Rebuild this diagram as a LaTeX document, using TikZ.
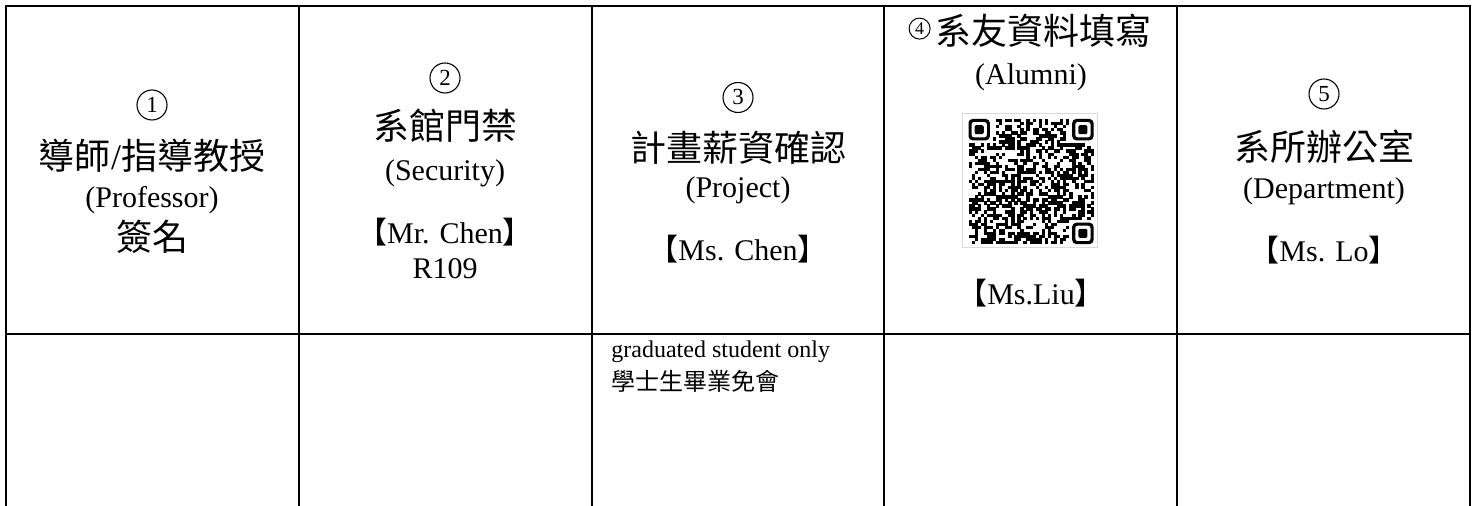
\documentclass[tikz,border=0pt]{standalone}
\usepackage{fontspec}
\setmainfont{Liberation Serif}
\newfontfamily\cjk{Noto Sans CJK TC}
\begin{document}
\begin{tikzpicture}[x=0.5pt,y=-0.5pt,
  gridline/.style={line width=1pt, black},
  head/.style={inner sep=0, font=\cjk\fontsize{18}{18}\selectfont},
  eng/.style={inner sep=0, font=\fontsize{15}{15}\selectfont},
  note/.style={inner sep=0, anchor=west, font=\fontsize{12}{12}\selectfont},
  notecjk/.style={inner sep=0, anchor=west, font=\cjk\fontsize{12}{12}\selectfont},
  num/.style={circle, draw, line width=0.55pt, minimum size=15pt, inner sep=0, font=\fontsize{11.5}{11.5}\selectfont},
  numsmall/.style={circle, draw, line width=0.5pt, minimum size=10.5pt, inner sep=0, font=\fontsize{9}{9}\selectfont},
  qrframe/.style={draw=black!15, line width=0.5pt},
  ]
\useasboundingbox (0,0) rectangle (1477,506);
\fill[white] (0,0) rectangle (1477,506);

% table lines
\draw[gridline] (5.7,506) -- (5.7,5.7) -- (1470,5.7) -- (1470,506);
\draw[gridline] (5.7,334) -- (1470,334);
\foreach \x in {298.6,591.5,884.4,1177.2} \draw[gridline] (\x,5.7) -- (\x,506);

% column 1
\node[num] (n1) at (152,105) {1};
\node[head] (t1) at (152,156) {導師{\rmfamily /}指導教授};
\node[eng] (e1) at (152,200) {(Professor)};
\node[head] (s1) at (152,237) {簽名};

% column 2
\node[num] (n2) at (445,78) {2};
\node[head] (t2) at (445,126) {系館門禁};
\node[eng] (e2) at (445,173) {(Security)};
\node[eng] (p2) at (445,232) {{\cjk 【}Mr. Chen{\cjk 】}};
\node[eng] (r2) at (445,269) {R109};

% column 3
\node[num] (n3) at (738,97.5) {3};
\node[head] (t3) at (738,148) {計畫薪資確認};
\node[eng] (e3) at (738,190) {(Project)};
\node[eng] (p3) at (738,249) {{\cjk 【}Ms. Chen{\cjk 】}};
\node[note] (g3) at (611,352) {graduated student only};
\node[notecjk] (c3) at (611,381) {學士生畢業免會};

% column 4
\node[head] (t4) at (1043,31) {系友資料填寫};
\node[numsmall, anchor=east] (n4) at ([xshift=-2pt,yshift=1.2pt]t4.west) {4};
\node[eng] (e4) at (1031,77.5) {(Alumni)};
\draw[qrframe] (962,114) rectangle (1097,248);
\begin{scope}[shift={(968.5,119)}]
  \def\qrm{3.05}
  \pgfmathsetseed{12}
  \foreach \i in {0,...,40}{\foreach \j in {0,...,40}{
    \pgfmathtruncatemacro{\qon}{(rnd<0.5)&&!((\i<8)&&(\j<8))&&!((\i>32)&&(\j<8))&&!((\i>32)&&(\j>32))}
    \ifnum\qon=1 \fill (\i*\qrm,\j*\qrm) rectangle ++(\qrm+0.3,\qrm+0.3);\fi
  }}
  \foreach \fx/\fy in {0/0,34/0,34/34}{
    \fill[rounded corners=2pt] (\fx*\qrm,\fy*\qrm) rectangle ++(7*\qrm,7*\qrm);
    \fill[white, rounded corners=1.2pt] (\fx*\qrm+\qrm,\fy*\qrm+\qrm) rectangle ++(5*\qrm,5*\qrm);
    \fill[rounded corners=1pt] (\fx*\qrm+2*\qrm,\fy*\qrm+2*\qrm) rectangle ++(3*\qrm,3*\qrm);
  }
\end{scope}
\node[eng] (p4) at (1031,293) {{\cjk 【}Ms.Liu{\cjk 】}};

% column 5
\node[num] (n5) at (1324,94) {5};
\node[head] (t5) at (1324,147) {系所辦公室};
\node[eng] (e5) at (1324,191) {(Department)};
\node[eng] (p5) at (1324,250) {{\cjk 【}Ms. Lo{\cjk 】}};
\end{tikzpicture}
\end{document}
